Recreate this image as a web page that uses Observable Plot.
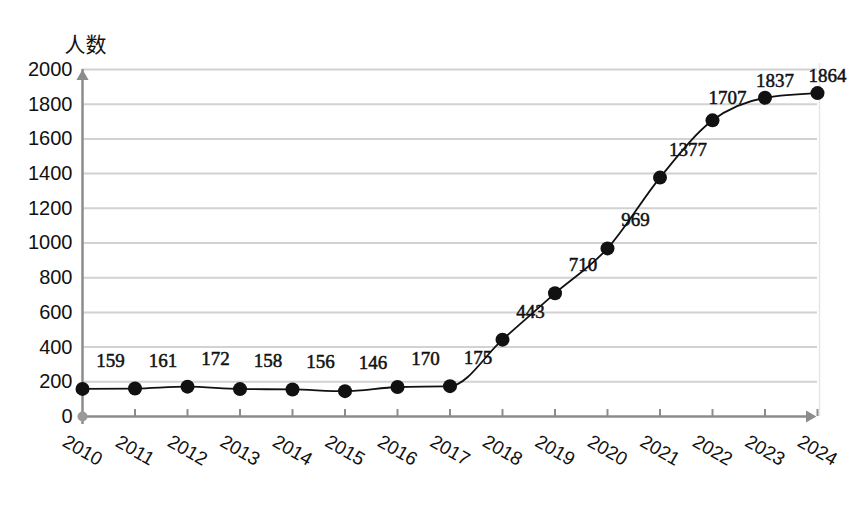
<!DOCTYPE html>
<html><head><meta charset="utf-8">
<script src="https://cdn.jsdelivr.net/npm/d3@7"></script>
<script src="https://cdn.jsdelivr.net/npm/@observablehq/plot@0.6"></script>
<style>body{margin:0;background:#fff}</style>
</head><body><div id="chart"></div>
<script>
const years = [2010,2011,2012,2013,2014,2015,2016,2017,2018,2019,2020,2021,2022,2023,2024];
const counts = [159,161,172,158,156,146,170,175,443,710,969,1377,1707,1837,1864];
const yTicks = [0,200,400,600,800,1000,1200,1400,1600,1800,2000];
const yLabel = "人数";

const data = years.map((year, i) => ({year, count: counts[i]}));
const gray = "#8c8c8c";
const serif = "'Liberation Serif', 'Times New Roman', serif";
const sans = "'Liberation Sans', Arial, sans-serif";

const chart = Plot.plot({
  width: 865, height: 511,
  marginLeft: 82, marginRight: 48, marginTop: 69, marginBottom: 95,
  style: {background: "#fff", fontFamily: sans, color: "#111"},
  x: {domain: [2010, 2024], axis: null},
  y: {domain: [0, 2000], axis: null},
  marks: [
    Plot.ruleY(yTicks.slice(1), {stroke: "#d2d2d2", strokeWidth: 2}),
    Plot.ruleX([years[years.length - 1]], {stroke: "#e6e6e6", strokeWidth: 1.5, dx: 2, y1: 0, y2: 2000, insetBottom: 6}),
    Plot.ruleY([0], {x1: years[0], x2: years[years.length - 1], stroke: gray, strokeWidth: 2.5, insetRight: 10}),
    Plot.ruleX([years[0]], {y1: 0, y2: 2000, stroke: gray, strokeWidth: 2.5, insetTop: 8}),
    Plot.ruleX(years.slice(1), {y1: 0, y2: 40, stroke: gray, strokeWidth: 2}),
    Plot.dot([2000], {x: () => years[0], y: d => d, symbol: "triangle", fill: gray, r: 4.5, dy: 7}),
    Plot.dot([0], {x: () => years[years.length - 1], y: d => d, symbol: "triangle", rotate: 90, fill: gray, r: 4.5, dx: -8}),
    Plot.dot([0], {x: () => years[0], y: d => d, fill: "#9a9a9a", r: 5}),
    Plot.axisY({ticks: yTicks, tickSize: 0, tickPadding: 10, fontSize: 20, label: null, tickFormat: d => String(d), fontFamily: sans}),
    Plot.text(years, {x: d => d, text: d => String(d), frameAnchor: "bottom", rotate: 30, dy: 34, fontSize: 19, fontFamily: sans, fill: "#111", textAnchor: "middle", lineAnchor: "middle"}),
    Plot.line(data, {x: "year", y: "count", curve: "monotone-x", stroke: "#111", strokeWidth: 1.8}),
    Plot.dot(data, {x: "year", y: "count", r: 7, fill: "#111"}),
    Plot.text(data.slice(0, 12), {x: "year", y: "count", text: d => String(d.count), dx: 28, dy: -28, fontSize: 19, fontFamily: serif, fill: "#111", stroke: "#111", strokeWidth: 0.5}),
    Plot.text(data.slice(12, 13), {x: "year", y: "count", text: d => String(d.count), dx: 15, dy: -22, fontSize: 19, fontFamily: serif, fill: "#111", stroke: "#111", strokeWidth: 0.5}),
    Plot.text(data.slice(13), {x: "year", y: "count", text: d => String(d.count), dx: 10, dy: -17, fontSize: 19, fontFamily: serif, fill: "#111", stroke: "#111", strokeWidth: 0.5}),
    Plot.text([yLabel], {text: d => d, frameAnchor: "top-left", dx: 3, dy: -24, fontSize: 21, fontFamily: "'Noto Sans CJK SC', sans-serif", textAnchor: "middle", lineAnchor: "middle", fill: "#111"})
  ]
});
document.getElementById("chart").appendChild(chart);
</script>
</body></html>
